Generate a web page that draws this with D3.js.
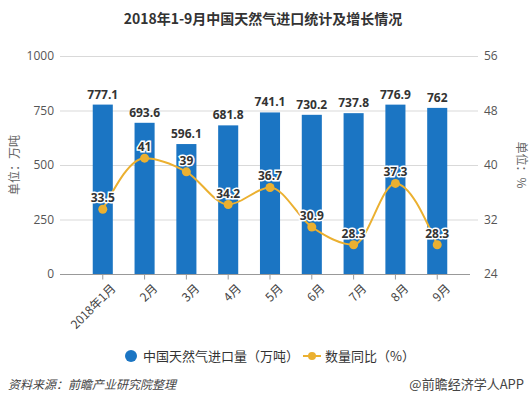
<!DOCTYPE html>
<html><head><meta charset="utf-8">
<script src="https://cdn.jsdelivr.net/npm/d3@7/dist/d3.min.js"></script>
<style>body{margin:0;background:#fff}svg{display:block;font-family:"Noto Sans CJK SC","Noto Sans",sans-serif}</style>
</head><body><svg id="c" width="531" height="404"></svg>
<script>
const categories = ["2018年1月","2月","3月","4月","5月","6月","7月","8月","9月"];
const importVolume = [777.1,693.6,596.1,681.8,741.1,730.2,737.8,776.9,762];
const yoyGrowth = [33.5,41,39,34.2,36.7,30.9,28.3,37.3,28.3];
const leftTicks = [0,250,500,750,1000];
const rightTicks = [24,32,40,48,56];

const svg = d3.select("#c");
const barColor = "#1B75C3", lineColor = "#EBB030";
const x = d3.scaleBand().domain(categories).range([71,469]).padding(0.52);
const yL = d3.scaleLinear().domain([0,1000]).range([274,56]);
const yR = d3.scaleLinear().domain([24,56]).range([274,56]);

svg.append("text").attr("x",263).attr("y",24).attr("text-anchor","middle")
  .attr("font-size",14).attr("font-weight","bold").attr("fill","#333").text("2018年1-9月中国天然气进口统计及增长情况");

// grid
svg.append("g").selectAll("line").data(leftTicks.slice(1)).join("line")
  .attr("x1",60).attr("x2",478).attr("y1",d=>yL(d)+0.5).attr("y2",d=>yL(d)+0.5)
  .attr("stroke","#d9d9d9");
// tick labels
svg.append("g").selectAll("text").data(leftTicks).join("text")
  .attr("x",54).attr("y",d=>yL(d)+4).attr("text-anchor","end").attr("font-size",12).attr("fill","#555")
  .attr("font-family","'Open Sans',sans-serif").text(d=>d);
svg.append("g").selectAll("text").data(rightTicks).join("text")
  .attr("x",484).attr("y",d=>yR(d)+4).attr("text-anchor","start").attr("font-size",12).attr("fill","#555")
  .attr("font-family","'Open Sans',sans-serif").text(d=>d);

svg.append("text").attr("transform","translate(19,165) rotate(-90)").attr("text-anchor","middle")
  .attr("font-size",12).attr("fill","#666").text("单位：万吨");
svg.append("text").attr("transform","translate(517,165) rotate(90)").attr("text-anchor","middle")
  .attr("font-size",12).attr("fill","#666").text("单位：%");

// bars
svg.append("g").selectAll("rect").data(importVolume).join("rect")
  .attr("x",(d,i)=>x(categories[i])).attr("width",x.bandwidth())
  .attr("y",d=>yL(d)).attr("height",d=>yL(0)-yL(d)).attr("fill",barColor);
svg.append("g").selectAll("text").data(importVolume).join("text")
  .attr("x",(d,i)=>x(categories[i])+x.bandwidth()/2).attr("y",d=>yL(d)-6)
  .attr("text-anchor","middle").attr("font-size",12).attr("font-weight","bold").attr("fill","#333")
  .attr("font-family","'Open Sans',sans-serif").text(d=>d);

// x axis
const xAxis = d3.axisBottom(x).tickSize(5).tickSizeOuter(0);
const gx = svg.append("g").attr("transform","translate(0,274.5)").call(xAxis);
gx.select(".domain").attr("stroke","#999").attr("d","M60,0H470");
gx.selectAll(".tick line").attr("stroke","#999");
gx.selectAll(".tick text").attr("font-size",12).attr("fill","#444")
  .attr("font-family","'Noto Sans CJK SC',sans-serif")
  .attr("text-anchor","end").attr("transform","translate(3,4) rotate(-45)").attr("dy","0.6em");

// line
const cx = (i)=>x(categories[i])+x.bandwidth()/2;
const line = d3.line().x((d,i)=>cx(i)).y(d=>yR(d)).curve(d3.curveMonotoneX);
svg.append("path").datum(yoyGrowth).attr("d",line).attr("fill","none").attr("stroke",lineColor).attr("stroke-width",2);
svg.append("g").selectAll("circle").data(yoyGrowth).join("circle")
  .attr("cx",(d,i)=>cx(i)).attr("cy",d=>yR(d)).attr("r",4.5).attr("fill",lineColor);
svg.append("g").selectAll("text").data(yoyGrowth).join("text")
  .attr("x",(d,i)=>cx(i)).attr("y",d=>yR(d)-7).attr("text-anchor","middle")
  .attr("font-size",12).attr("font-weight","bold").attr("fill","#333")
  .attr("stroke","#fff").attr("stroke-width",3).attr("paint-order","stroke")
  .attr("font-family","'Open Sans',sans-serif").text(d=>d);

// legend
svg.append("circle").attr("cx",131).attr("cy",356).attr("r",6).attr("fill",barColor);
svg.append("text").attr("x",143).attr("y",361).attr("font-size",13).attr("fill","#333").text("中国天然气进口量（万吨）");
svg.append("line").attr("x1",303).attr("x2",321).attr("y1",356).attr("y2",356).attr("stroke",lineColor).attr("stroke-width",2);
svg.append("circle").attr("cx",312).attr("cy",356).attr("r",4).attr("fill",lineColor);
svg.append("text").attr("x",325).attr("y",361).attr("font-size",13).attr("fill","#333").text("数量同比（%）");

// footer
svg.append("text").attr("x",8).attr("y",389).attr("font-size",12).attr("font-style","italic").attr("fill","#444").text("资料来源：前瞻产业研究院整理");
svg.append("text").attr("x",524).attr("y",389).attr("text-anchor","end").attr("font-size",13).attr("fill","#444").text("@前瞻经济学人APP");
</script></body></html>
